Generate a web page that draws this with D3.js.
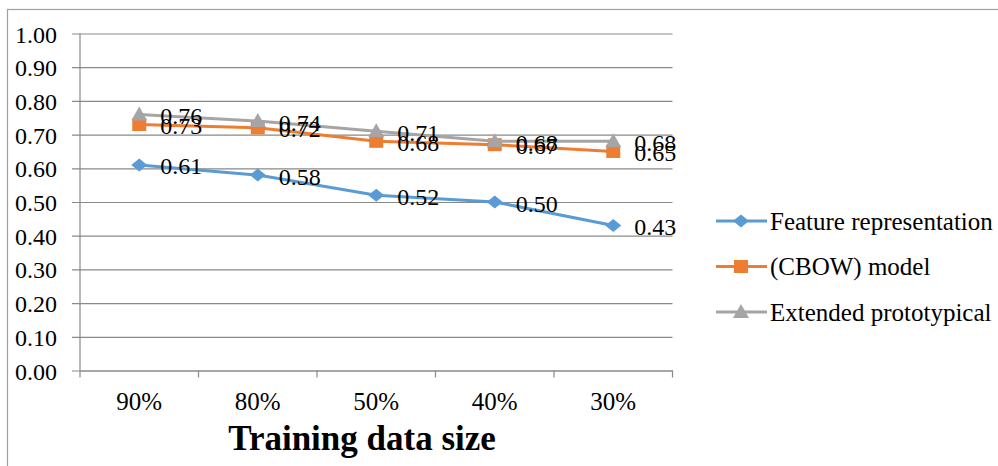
<!DOCTYPE html>
<html>
<head>
<meta charset="utf-8">
<script src="https://cdn.jsdelivr.net/npm/d3@7"></script>
<style>
  html, body { margin: 0; padding: 0; background: #fff; }
  svg { display: block; }
  svg text { font-family: "Liberation Serif", "Times New Roman", serif; fill: #000; }
</style>
</head>
<body>
<svg id="chart" width="998" height="466"></svg>
<script>
// Training data sizes on the x axis
const categories = ["90%", "80%", "50%", "40%", "30%"];
// Series names, as shown in the legend
const seriesNames = ["Feature representation", "(CBOW) model", "Extended prototypical"];
// Values per series, one per category
const featureValues = [0.61, 0.58, 0.52, 0.50, 0.43];
const cbowValues = [0.73, 0.72, 0.68, 0.67, 0.65];
const extendedValues = [0.76, 0.74, 0.71, 0.68, 0.68];
// y axis ticks
const yTicks = [0, 0.1, 0.2, 0.3, 0.4, 0.5, 0.6, 0.7, 0.8, 0.9, 1.0];
const xTitle = "Training data size";

const series = [
  { name: seriesNames[0], values: featureValues, color: "#5B9BD5", marker: "diamond" },
  { name: seriesNames[1], values: cbowValues, color: "#ED7D31", marker: "square" },
  { name: seriesNames[2], values: extendedValues, color: "#A5A5A5", marker: "triangle" }
];

const svg = d3.select("#chart");
const W = 998, H = 466;
const axisColor = "#898989";

// outer chart frame
svg.append("rect")
  .attr("x", 7.5).attr("y", 9.5)
  .attr("width", W + 10).attr("height", H + 10)
  .attr("fill", "none").attr("stroke", "#a0a0a0").attr("stroke-width", 1.2);

const plot = { left: 80, right: 672.5, top: 33.5, bottom: 370.5 };

const x = d3.scaleBand().domain(categories).range([plot.left, plot.right]).padding(0);
const y = d3.scaleLinear().domain([0, 1]).range([plot.bottom, plot.top]);
const cx = d => x(d) + x.bandwidth() / 2;

// horizontal gridlines with outside ticks on the left
const yAxis = d3.axisLeft(y).tickValues(yTicks).tickFormat(d3.format(".2f"))
  .tickSize(-(plot.right - plot.left)).tickSizeOuter(0);
const gy = svg.append("g").attr("transform", `translate(${plot.left},0)`).call(yAxis);
gy.attr("font-family", null).attr("font-size", null);
gy.select(".domain").remove();
gy.selectAll(".tick line")
  .attr("x1", -8)
  .attr("stroke", axisColor).attr("stroke-width", 1.2);
gy.selectAll(".tick text")
  .attr("x", -23).attr("dy", null).attr("y", 8.5)
  .attr("font-size", 24);

// vertical axis line
svg.append("line")
  .attr("x1", plot.left).attr("x2", plot.left)
  .attr("y1", plot.top).attr("y2", plot.bottom)
  .attr("stroke", axisColor).attr("stroke-width", 1.2);

// category axis: ticks sit on the band boundaries
const xAxis = d3.axisBottom(x).tickSize(0);
const gx = svg.append("g").attr("transform", `translate(0,${plot.bottom})`).call(xAxis);
gx.attr("font-family", null).attr("font-size", null);
gx.select(".domain").attr("stroke", axisColor).attr("stroke-width", 1.2);
gx.selectAll(".tick text")
  .attr("dy", null).attr("y", 39)
  .attr("font-size", 25);
const bounds = categories.map(c => x(c)).concat([x(categories[categories.length - 1]) + x.bandwidth()]);
svg.append("g").selectAll("line").data(bounds).join("line")
  .attr("x1", d => d).attr("x2", d => d)
  .attr("y1", plot.bottom).attr("y2", plot.bottom + 7)
  .attr("stroke", axisColor).attr("stroke-width", 1.2);

// axis title
svg.append("text")
  .attr("x", 362).attr("y", 450)
  .attr("text-anchor", "middle")
  .attr("font-size", 35).attr("font-weight", "bold")
  .text(xTitle);

function markerPath(type) {
  if (type === "diamond") return "M0,-6.5L8,0L0,6.5L-8,0Z";
  if (type === "square") return "M-7,-6.5H7V6.5H-7Z";
  return "M0,-8L8,6H-8Z";
}

const line = d3.line().x((d, i) => cx(categories[i])).y(d => y(d));

series.forEach(s => {
  const g = svg.append("g");
  g.append("path")
    .datum(s.values)
    .attr("d", line)
    .attr("fill", "none").attr("stroke", s.color).attr("stroke-width", 3);
  g.selectAll("path.mk").data(s.values).join("path")
    .attr("class", "mk")
    .attr("transform", (d, i) => `translate(${cx(categories[i])},${y(d)})`)
    .attr("d", markerPath(s.marker))
    .attr("fill", s.color);
});

// value labels, right of each point
series.forEach(s => {
  svg.append("g").selectAll("text").data(s.values).join("text")
    .attr("x", (d, i) => cx(categories[i]) + 21)
    .attr("y", d => y(d) + 9.5)
    .attr("font-size", 24)
    .text(d => d3.format(".2f")(d));
});

// legend
const legend = svg.append("g");
series.forEach((s, i) => {
  const ly = 221 + i * 45.5;
  const row = legend.append("g").attr("transform", `translate(0,${ly})`);
  row.append("line")
    .attr("x1", 716).attr("x2", 767).attr("y1", 0).attr("y2", 0)
    .attr("stroke", s.color).attr("stroke-width", 3);
  row.append("path")
    .attr("transform", "translate(741,0)")
    .attr("d", markerPath(s.marker))
    .attr("fill", s.color);
  row.append("text")
    .attr("x", 770).attr("y", 8.5)
    .attr("font-size", 25)
    .text(s.name);
});
</script>
</body>
</html>
